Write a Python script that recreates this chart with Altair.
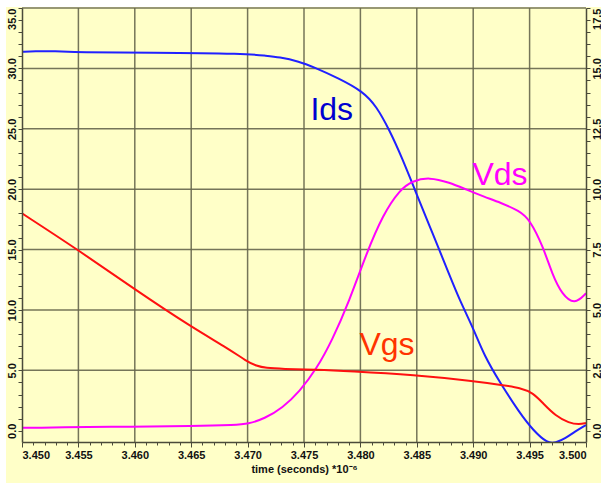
import altair as alt
import pandas as pd

# ---------------- data ----------------
ids_t = [3.4500, 3.4511, 3.4529, 3.4550, 3.4613, 3.4700, 3.4715, 3.4728, 3.4746, 3.4758,
         3.4781, 3.4802, 3.4814, 3.4826, 3.4837, 3.4848, 3.4864, 3.4879, 3.4888, 3.4900,
         3.4910, 3.4924, 3.4941, 3.4953, 3.4966, 3.4973, 3.4982, 3.4990, 3.5000]
ids_v = [31.37, 31.43, 31.43, 31.31, 31.31, 31.22, 31.06, 30.94, 30.56, 30.13,
         29.17, 28.10, 26.90, 24.85, 22.57, 20.01, 16.34, 12.89, 10.82, 8.50,
         6.17, 3.95, 1.50, 0.05, -1.05, -1.00, -0.62, -0.08, 0.47]

vds_t = [3.4500, 3.4513, 3.4529, 3.4600, 3.4650, 3.4690, 3.4700, 3.4715, 3.4731, 3.4746,
         3.4761, 3.4775, 3.4790, 3.4805, 3.4820, 3.4835, 3.4846, 3.4861, 3.4879, 3.4894,
         3.4910, 3.4924, 3.4941, 3.4950, 3.4962, 3.4970, 3.4979, 3.4990, 3.5000]
vds_v = [0.12, 0.12, 0.15, 0.17, 0.19, 0.24, 0.28, 0.50, 0.95, 1.62,
         2.55, 3.75, 5.35, 7.30, 8.95, 9.98, 10.34, 10.50, 10.28, 9.98,
         9.68, 9.45, 9.10, 8.75, 7.62, 6.48, 5.62, 5.22, 5.69]

vgs_t = [3.4500, 3.4550, 3.4600, 3.4650, 3.4684, 3.4699, 3.4708, 3.4716, 3.4731, 3.4760,
         3.4790, 3.4848, 3.4900, 3.4929, 3.4941, 3.4953, 3.4962, 3.4973, 3.4985, 3.4994,
         3.5000]
vgs_v = [9.00, 7.48, 5.85, 4.30, 3.37, 2.88, 2.68, 2.60, 2.56, 2.53,
         2.47, 2.31, 2.06, 1.87, 1.78, 1.58, 1.13, 0.62, 0.32, 0.26,
         0.32]

# curve name labels: Ids on left scale, Vds / Vgs on right scale
left_lbl_text = ["Ids"]
left_lbl_t = [3.47557]
left_lbl_v = [25.72]
right_lbl_text = ["Vds", "Vgs"]
right_lbl_t = [3.48993, 3.47991]
right_lbl_v = [10.17, 3.13]

# ticks / grid
x_ticks = [round(3.450 + i * 0.001, 3) for i in range(51)]
yl_ticks = list(range(0, 36))
yr_ticks = [i * 0.5 for i in range(36)]
grid_t = [3.455, 3.460, 3.465, 3.470, 3.475, 3.480, 3.485, 3.490, 3.495]
grid_v = [5, 10, 15, 20, 25, 30, 35]

# ---------------- style ----------------
W, H = 564, 434
YELLOW = "#FFFFC8"
GRID = "#66664c"
AX = "#4a4a3a"
FONT = "Liberation Sans"

x_scale = alt.Scale(domain=[3.450, 3.500], nice=False, zero=False)
yl_scale = alt.Scale(domain=[-0.93, 35.0], nice=False, zero=False)
yr_scale = alt.Scale(domain=[-0.465, 17.5], nice=False, zero=False)

common = dict(grid=False, labelOverlap=False, domainColor=AX, domainWidth=1.5,
              tickColor=AX, tickWidth=1, labelFont=FONT, labelFontWeight="bold",
              labelFontSize=11, labelColor="#111111", zindex=1)

MAJ_X = "round(datum.value*1000) % 5 == 0"
x_axis = alt.Axis(values=x_ticks,
                  labelExpr=f"{MAJ_X} ? format(datum.value, '.3f') : ''",
                  tickSize={"condition": {"test": MAJ_X, "value": 5}, "value": 3},
                  labelFlush=True, labelPadding=2,
                  title="time (seconds) *10⁻⁶", titleFont=FONT, titleFontSize=11,
                  titleFontWeight="bold", titleColor="#111111", titlePadding=3,
                  **common)

yl_axis = alt.Axis(values=yl_ticks, orient="left",
                   labelExpr="datum.value % 5 == 0 ? format(datum.value, '.1f') : ''",
                   labelAngle=270,
                   labelAlign={"condition": {"test": "datum.value >= 35", "value": "right"},
                               "value": "center"},
                   labelBaseline="bottom", tickSize=4, labelPadding=1, title=None,
                   **common)

yr_axis = alt.Axis(values=yr_ticks, orient="right",
                   labelExpr="datum.value % 2.5 == 0 ? format(datum.value, '.1f') : ''",
                   labelAngle=270,
                   labelAlign={"condition": {"test": "datum.value >= 17.5", "value": "right"},
                               "value": "center"},
                   labelBaseline="top", tickSize=4, labelPadding=1, title=None,
                   **common)


def X(f):
    return alt.X(f, type="quantitative", scale=x_scale, axis=x_axis)


def YL(f):
    return alt.Y(f, type="quantitative", scale=yl_scale, axis=yl_axis)


def YR(f):
    return alt.Y(f, type="quantitative", scale=yr_scale, axis=yr_axis)


ids_df = pd.DataFrame({"t": ids_t, "v": ids_v})
vds_df = pd.DataFrame({"t": vds_t, "v": vds_v})
vgs_df = pd.DataFrame({"t": vgs_t, "v": vgs_v})

bg = alt.Chart(pd.DataFrame({"k": [0]})).mark_rect(color=YELLOW).encode(
    x=alt.value(-16), x2=alt.value(W + 15), y=alt.value(-1), y2=alt.value(H + 41))

gridv = alt.Chart(pd.DataFrame({"t": grid_t})).mark_rule(
    color=GRID, strokeWidth=1.5, opacity=0.9).encode(x=X("t"))
gridh = alt.Chart(pd.DataFrame({"v": grid_v})).mark_rule(
    color=GRID, strokeWidth=1.5, opacity=0.9).encode(y=YL("v"))

LINE = dict(strokeWidth=2, interpolate="basis", clip=True)

ids_line = alt.Chart(ids_df).mark_line(color="#2020FF", **LINE).encode(x=X("t"), y=YL("v"))
ids_lbl = alt.Chart(pd.DataFrame({"t": left_lbl_t, "v": left_lbl_v, "s": left_lbl_text})).mark_text(
    align="left", baseline="alphabetic", font=FONT, fontSize=32, color="#0000D0").encode(
    x=X("t"), y=YL("v"), text="s:N")

layer_left = alt.layer(bg, gridv, gridh, ids_line, ids_lbl)

vds_line = alt.Chart(vds_df).mark_line(color="#FF00FF", **LINE).encode(x=X("t"), y=YR("v"))
vgs_line = alt.Chart(vgs_df).mark_line(color="#FF1010", **LINE).encode(x=X("t"), y=YR("v"))
r_lbl_df = pd.DataFrame({"t": right_lbl_t, "v": right_lbl_v, "s": right_lbl_text})
r_lbls = alt.Chart(r_lbl_df).mark_text(
    align="left", baseline="alphabetic", font=FONT, fontSize=32).encode(
    x=X("t"), y=YR("v"), text="s:N",
    color=alt.Color("s:N", scale=alt.Scale(domain=["Vds", "Vgs"], range=["#FF00FF", "#FF3300"]),
                    legend=None))

layer_right = alt.layer(vds_line, vgs_line, r_lbls)

chart = alt.layer(layer_left, layer_right).resolve_scale(y="independent").properties(
    width=W, height=H,
    padding={"left": 22, "top": 8, "right": 15, "bottom": 41},
    autosize=alt.AutoSizeParams(type="none"),
    background="white",
).configure_view(stroke="transparent").configure(font=FONT)

chart.save("out.html", embed_options={"renderer": "svg", "actions": False})
